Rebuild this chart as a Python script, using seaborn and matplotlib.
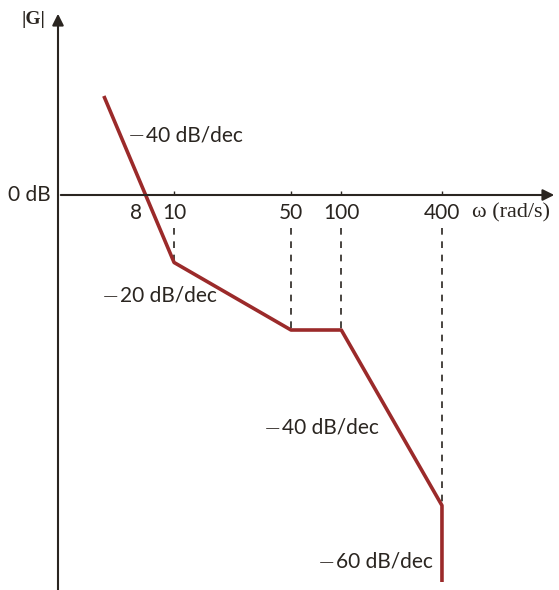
import numpy as np
import pandas as pd
import seaborn as sns
from matplotlib import pyplot as plt

sns.set_theme(style='white')
plt.rcParams['font.family'] = ['Lato', 'DejaVu Sans']

# 渐近幅频特性 (折线各转折点)
omega = [3.8, 10, 50, 100, 400, 400]
mag_db = [22, -15, -30, -30, -69, -86]
corner_freqs = [10, 50, 100, 400]
corner_mags = [-15, -30, -30, -69]
tick_labels = ['10', '50', '100', '400']
tick_pos = [10, 50, 100, 400]
slope_labels = ['40 dB/dec', '20 dB/dec', '40 dB/dec', '60 dB/dec']

red = '#9b2a2a'
ink = '#2a2520'
fs = 15

df = pd.DataFrame({'omega': omega, 'mag': mag_db})

fig = plt.figure(figsize=(5.59, 5.90), dpi=100)
ax = fig.add_axes([0, 0, 1, 1])
ax.set_xscale('log')
ax.set_xlim(10 ** (-6.9 / 167.2), 10 ** ((559 - 6.9) / 167.2))
ax.set_ylim(-590 / 4.5 + 195 / 4.5, 195 / 4.5)
ax.axis('off')

# 坐标轴 (带箭头)
x0 = 58 / 559
ax.annotate('', xy=(x0, 1 - 11 / 590), xytext=(x0, -0.01), xycoords='axes fraction',
            arrowprops=dict(arrowstyle='-|>', color=ink, lw=1.5, mutation_scale=17))
ax.annotate('', xy=(557 / 559, 0), xytext=(x0, 0), xycoords=('axes fraction', 'data'),
            arrowprops=dict(arrowstyle='-|>', color=ink, lw=1.5, mutation_scale=17))

# 虚线
ax.vlines(corner_freqs, -7.3, corner_mags, colors=ink, linestyles=(0, (4, 4)), lw=1.2)
ax.vlines(corner_freqs, 0, 1.0, colors=ink, lw=1.0)

sns.lineplot(data=df, x='omega', y='mag', sort=False, estimator=None,
             color=red, lw=2.6, ax=ax, solid_capstyle='butt')

# 刻度标签
ytr = ax.get_yaxis_transform()
for p, t in zip(tick_pos, tick_labels):
    ax.text(p, -4.0, t, ha='center', va='center', fontsize=fs, color=ink)
ax.text(136 / 559, -4.0, '8', ha='center', va='center', fontsize=fs, color=ink, transform=ytr)
ax.text(29 / 559, 0, '0 dB', ha='center', va='center', fontsize=fs, color=ink, transform=ytr)
ax.text(511 / 559, -4.0, 'ω (rad/s)', ha='center', va='center', fontsize=16, color=ink,
        family=['Liberation Serif', 'DejaVu Serif'], transform=ytr)
ax.text(33 / 559, 1 - 20 / 590, '|G|', ha='center', va='center', fontsize=14, color=ink,
        family=['Liberation Serif'], fontweight='bold', transform=ax.transAxes)

# 斜率标注
label_xy = [(128, 135), (102, 296), (264, 428), (318, 562)]
for (px, py), s in zip(label_xy, slope_labels):
    ax.text(px / 559, 1 - py / 590, '−', ha='left', va='center', fontsize=fs, color=ink,
            family=['DejaVu Sans'], fontweight='light', transform=ax.transAxes)
    ax.text((px + 18) / 559, 1 - py / 590, s, ha='left', va='center', fontsize=fs, color=ink,
            transform=ax.transAxes)

plt.savefig('out.png', dpi=100)
